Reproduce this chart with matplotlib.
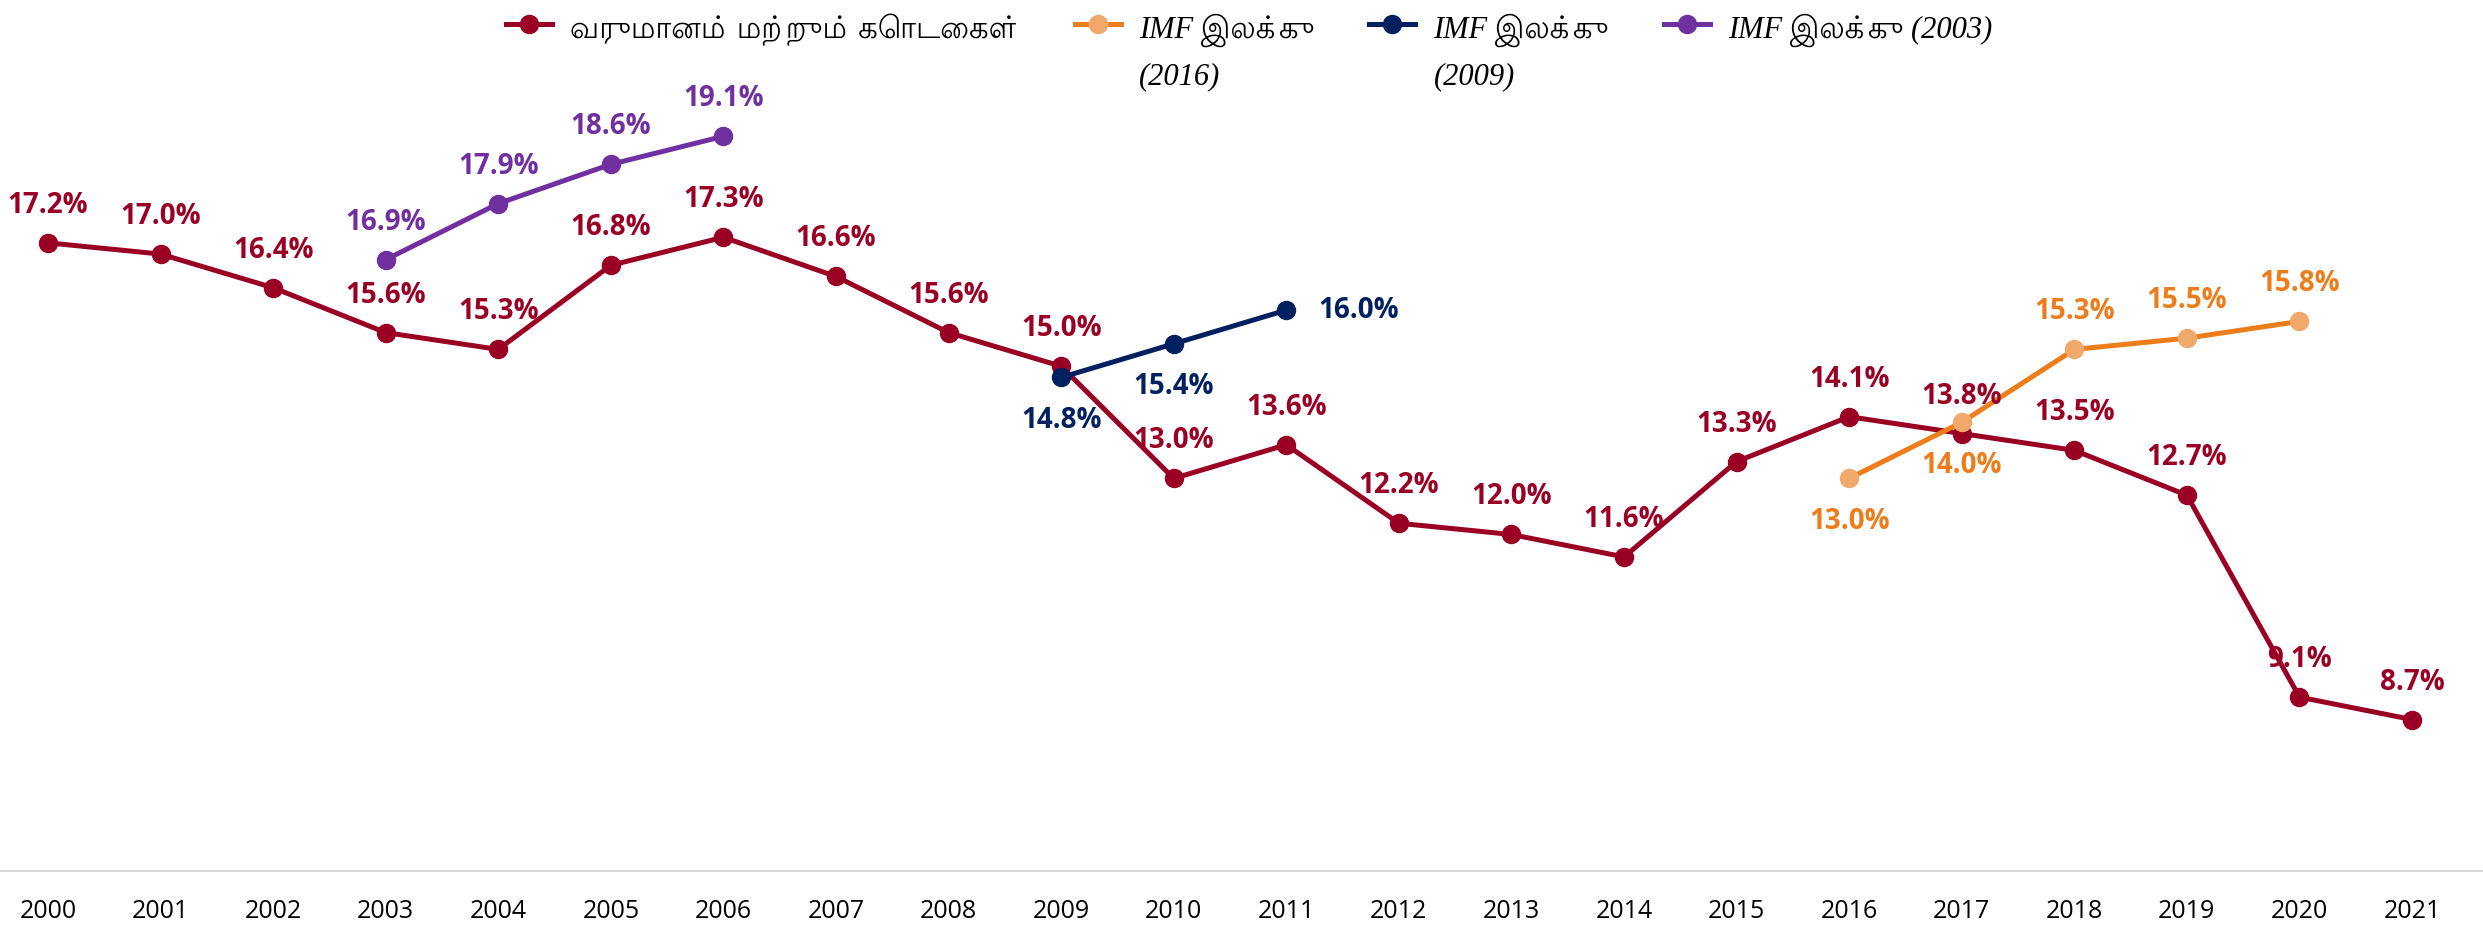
import matplotlib
matplotlib.use("Agg")
import matplotlib.pyplot as plt
from matplotlib import font_manager
from matplotlib.ft2font import FT2Font
from matplotlib.lines import Line2D

# =========================
# Datos
# =========================

anios = [str(a) for a in range(2000, 2022)]

ingresos = [17.2, 17.0, 16.4, 15.6, 15.3, 16.8, 17.3, 16.6, 15.6, 15.0, 13.0,
            13.6, 12.2, 12.0, 11.6, 13.3, 14.1, 13.8, 13.5, 12.7, 9.1, 8.7]

imf_2016_anios = ["2016", "2017", "2018", "2019", "2020"]
imf_2016 = [13.0, 14.0, 15.3, 15.5, 15.8]

imf_2009_anios = ["2009", "2010", "2011"]
imf_2009 = [14.8, 15.4, 16.0]

imf_2003_anios = ["2003", "2004", "2005", "2006"]
imf_2003 = [16.9, 17.9, 18.6, 19.1]

etiquetas = [
    "வருமானம் மற்றும் கொடைகள்",
    "IMF இலக்கு\n(2016)",
    "IMF இலக்கு\n(2009)",
    "IMF இலக்கு (2003)",
]

# =========================
# Fuentes con soporte tamil
# =========================

fuentes_tamil = set()
for f in font_manager.fontManager.ttflist:
    try:
        if 0x0BB5 in FT2Font(f.fname).get_charmap():
            fuentes_tamil.add(f.name)
    except Exception:
        pass

preferidas = ["FreeSerif", "Lohit Tamil", "Noto Serif Tamil", "Noto Sans Tamil", "Hind Madurai"]
tamil = [p for p in preferidas if p in fuentes_tamil]

familia_num = ["Open Sans", "DejaVu Sans"]
familia_leyenda = ["Liberation Serif"] + tamil + ["DejaVu Sans"]

ROJO = "#990024"
NARANJA = "#ED7D1A"
NARANJA_CLARO = "#F1A96B"
AZUL = "#002060"
MORADO = "#7030A0"

fig = plt.figure(figsize=(24.83, 9.3), dpi=100)
ax = fig.add_axes([0, 59 / 930, 1, 871 / 930])

pos = {a: i for i, a in enumerate(anios)}


def serie(anios_s, valores, color, color_marcador, lugares, color_texto):
    x = [pos[a] for a in anios_s]
    ax.plot(x, valores, color=color, lw=3.6, marker="o", ms=13,
            markerfacecolor=color_marcador, markeredgecolor=color_marcador, zorder=3)
    for xi, v, lugar in zip(x, valores, lugares):
        if lugar == "arriba":
            off = (0, 27)
        elif lugar == "abajo":
            off = (0, -31)
        else:
            off = (52, 0)
        ax.annotate(f"{v:.1f}%", (xi, v), xytext=off, textcoords="offset points",
                    ha="center", va="center", fontsize=20, fontweight="bold",
                    color=color_texto, family=familia_num, zorder=4)


serie(anios, ingresos, ROJO, ROJO, ["arriba"] * len(ingresos), ROJO)
serie(imf_2016_anios, imf_2016, NARANJA, NARANJA_CLARO,
      ["abajo", "abajo", "arriba", "arriba", "arriba"], NARANJA)
serie(imf_2009_anios, imf_2009, AZUL, AZUL, ["abajo", "abajo", "derecha"], AZUL)
serie(imf_2003_anios, imf_2003, MORADO, MORADO, ["arriba"] * 4, MORADO)

ax.set_xlim(-0.426, 21.63)
ax.set_ylim(6.0, 21.53)
ax.set_xticks(range(len(anios)))
ax.set_xticklabels(anios, fontsize=18, family=familia_num)
ax.tick_params(axis="x", length=0, pad=20)
ax.set_yticks([])
for lado in ["top", "left", "right"]:
    ax.spines[lado].set_visible(False)
ax.spines["bottom"].set_color("#d9d9d9")
ax.spines["bottom"].set_linewidth(1.5)

manejadores = [
    Line2D([], [], color=ROJO, lw=3.6, marker="o", ms=13, markerfacecolor=ROJO, markeredgecolor=ROJO),
    Line2D([], [], color=NARANJA, lw=3.6, marker="o", ms=13, markerfacecolor=NARANJA_CLARO, markeredgecolor=NARANJA_CLARO),
    Line2D([], [], color=AZUL, lw=3.6, marker="o", ms=13, markerfacecolor=AZUL, markeredgecolor=AZUL),
    Line2D([], [], color=MORADO, lw=3.6, marker="o", ms=13, markerfacecolor=MORADO, markeredgecolor=MORADO),
]
leyenda = ax.legend(manejadores, etiquetas, loc="upper center", bbox_to_anchor=(0.503, 1.016),
                    ncol=4, frameon=False, handlelength=1.5, handletextpad=0.6, columnspacing=1.8,
                    prop={"family": familia_leyenda, "style": "italic", "size": 22})
for t in leyenda.get_texts():
    t.set_linespacing(1.7)

# alinear marcadores y textos de la leyenda con la primera línea
caja = leyenda._legend_handle_box
caja.align = "top"
for col in caja.get_children():
    col.align = "left"
    for item in col.get_children():
        item.align = "top"

fig.savefig("out.png", dpi=100)
